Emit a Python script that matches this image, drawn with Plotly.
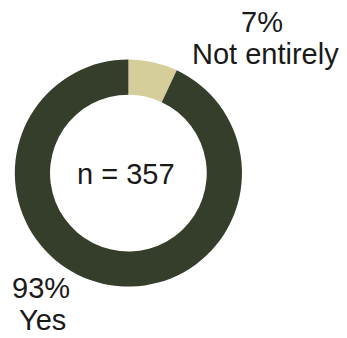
import plotly.graph_objects as go

labels = ["Not entirely", "Yes"]
shares = [7, 93]
colors = ["#d5ce9a", "#343e2a"]
sample_size = 357

FONT = "Liberation Sans, Arial, sans-serif"

fig = go.Figure(
    go.Pie(
        labels=labels,
        values=shares,
        hole=0.69,
        sort=False,
        direction="clockwise",
        rotation=0,
        marker=dict(colors=colors, line=dict(width=0)),
        textinfo="none",
        hoverinfo="label+percent",
        showlegend=False,
        domain=dict(x=[0.04, 0.70], y=[0.152, 0.824]),
    )
)

txt = dict(family=FONT, size=29, color="#1a1a1a")
annotations = [
    dict(text=f"n = {sample_size}", x=126 / 347, y=1 - 174 / 338),
    dict(text=f"{shares[0]}%", x=262 / 347, y=1 - 22 / 338),
    dict(text=labels[0], x=265 / 347, y=1 - 54 / 338),
    dict(text=f"{shares[1]}%", x=41 / 347, y=1 - 288 / 338),
    dict(text=labels[1], x=42 / 347, y=1 - 320 / 338, height=30),
]
fig.update_layout(
    width=347,
    height=338,
    margin=dict(l=0, r=0, t=0, b=0),
    paper_bgcolor="white",
    plot_bgcolor="white",
    annotations=[
        dict(dict(xref="paper", yref="paper", showarrow=False, xanchor="center",
                  yanchor="middle", font=txt), **a)
        for a in annotations
    ],
)

fig.write_html("out.html")
